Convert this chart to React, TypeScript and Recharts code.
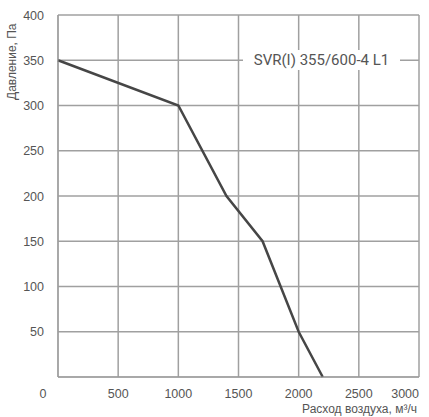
import { LineChart, Line, XAxis, YAxis, CartesianGrid } from 'recharts';

const flow = [0, 1000, 1400, 1700, 2000, 2200];
const pressure = [350, 300, 200, 150, 50, 0];
const xTicks = [0, 500, 1000, 1500, 2000, 2500, 3000];
const yTicks = [0, 50, 100, 150, 200, 250, 300, 350, 400];
const modelName = 'SVR(I) 355/600-4 L1';
const xTitle = 'Расход воздуха, м³/ч';
const yTitle = 'Давление, Па';

const data = flow.map((f, i) => ({ flow: f, pressure: pressure[i] }));

const FONT = '"Liberation Sans", Arial, sans-serif';

const XTick = (props: any) => {
  const { x, y, payload } = props;
  let dx = 0;
  let anchor = 'middle';
  if (payload.value === 0) dx = -15;
  if (payload.value === 3000) anchor = 'end';
  return (
    <text x={x + dx} y={y + 13} textAnchor={anchor} fill="#555" fontSize={12.5} fontFamily={FONT}>
      {payload.value}
    </text>
  );
};

const YTick = (props: any) => {
  const { x, y, payload } = props;
  if (payload.value === 0) return null;
  return (
    <text x={x - 6} y={y + 4.5} textAnchor="end" fill="#555" fontSize={12.5} fontFamily={FONT}>
      {payload.value}
    </text>
  );
};

export default function App() {
  return (
    <div style={{ position: 'absolute', left: 0, top: 0, width: 429, height: 417, background: '#fff' }}>
      <LineChart width={429} height={417} data={data} margin={{ top: 15, right: 10, left: 0, bottom: 0 }}>
        <CartesianGrid stroke="#a0a0a0" strokeWidth={1.5} />
        <XAxis
          dataKey="flow"
          type="number"
          domain={[0, 3000]}
          ticks={xTicks}
          height={40}
          stroke="#999"
          tickLine={false}
          tick={<XTick />}
          interval={0}
        />
        <YAxis
          type="number"
          domain={[0, 400]}
          ticks={yTicks}
          width={58}
          stroke="#999"
          tickLine={false}
          tick={<YTick />}
          interval={0}
        />
        <Line
          dataKey="pressure"
          stroke="#464646"
          strokeWidth={2.5}
          dot={false}
          activeDot={false}
          isAnimationActive={false}
        />
      </LineChart>
      <div
        style={{
          position: 'absolute',
          right: 12,
          top: 402,
          color: '#555',
          fontSize: 12,
          lineHeight: '14px',
          fontFamily: FONT,
          whiteSpace: 'nowrap',
        }}
      >
        {xTitle}
      </div>
      <div
        style={{
          position: 'absolute',
          left: 5,
          top: 100,
          transform: 'rotate(-90deg)',
          transformOrigin: 'left top',
          color: '#555',
          fontSize: 12,
          lineHeight: '14px',
          fontFamily: FONT,
          whiteSpace: 'nowrap',
        }}
      >
        {yTitle}
      </div>
      <div
        style={{
          position: 'absolute',
          left: 243,
          top: 50,
          width: 157,
          height: 20,
          background: '#fff',
          color: '#555',
          fontSize: 15,
          fontFamily: 'Roboto, sans-serif',
          textAlign: 'center',
          lineHeight: '20px',
          whiteSpace: 'nowrap',
        }}
      >
        {modelName}
      </div>
    </div>
  );
}
